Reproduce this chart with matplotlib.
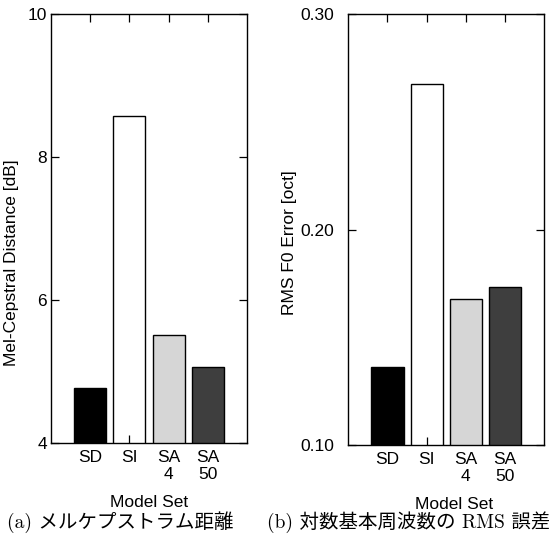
import matplotlib
matplotlib.use('Agg')
import matplotlib.pyplot as plt

plt.rcParams['font.family'] = ['Liberation Sans', 'DejaVu Sans']

model_sets = ['SD', 'SI', 'SA\n4', 'SA\n50']
mcd = [4.77, 8.58, 5.51, 5.07]
f0_err = [0.136, 0.2675, 0.1676, 0.1732]
bar_colors = ['black', 'none', '#d6d6d6', '#3e3e3e']
positions = [1, 2, 3, 4]

fig = plt.figure(figsize=(5.49, 5.37), dpi=100)
ax1 = fig.add_axes([0.0929, 0.175, 0.357, 0.799])
ax2 = fig.add_axes([0.6344, 0.1713, 0.357, 0.8026])


def style(ax, values, ylim, yticks, ytick_labels, ylabel, ylab_x, ylab_y, xlab_x):
    ax.bar(positions, values, width=0.82,
           color=bar_colors, edgecolor='black', linewidth=1.0, zorder=2)
    ax.set_xlim(0, 5)
    ax.set_ylim(*ylim)
    ax.set_xticks(positions)
    ax.set_xticklabels(model_sets, fontsize=12.5, linespacing=1.2)
    ax.set_yticks(yticks)
    ax.set_yticklabels(ytick_labels, fontsize=12.5)
    ax.tick_params(direction='in', length=6, width=0.9, top=True, right=True)
    ax.tick_params(axis='x', pad=5)
    ax.set_axisbelow(True)
    for sp in ax.spines.values():
        sp.set_linewidth(1.0)
    ax.set_ylabel(ylabel, fontsize=12.5)
    ax.yaxis.set_label_coords(ylab_x, ylab_y)
    ax.set_xlabel('Model Set', fontsize=12.5)
    ax.xaxis.set_label_coords(xlab_x, -0.121)


style(ax1, mcd, (4, 10), [4, 6, 8, 10], ['4', '6', '8', '10'],
      'Mel-Cepstral Distance [dB]', -0.163, 0.42, 0.5)
ax1.tick_params(axis='y', pad=3)
style(ax2, f0_err, (0.10, 0.30), [0.10, 0.20, 0.30], ['0.10', '0.20', '0.30'],
      'RMS F0 Error [oct]', -0.262, 0.47, 0.54)
ax2.tick_params(axis='y', pad=10)

cap_fonts = ['cmr10', 'Noto Sans CJK JP']
fig.text(7 / 549, 0.028, '(a) メルケプストラム距離', fontsize=14,
         family=cap_fonts, ha='left', va='center')
fig.text(267 / 549, 0.028, '(b) 対数基本周波数の RMS 誤差', fontsize=14,
         family=cap_fonts, ha='left', va='center')

fig.savefig('out.png', dpi=100)
